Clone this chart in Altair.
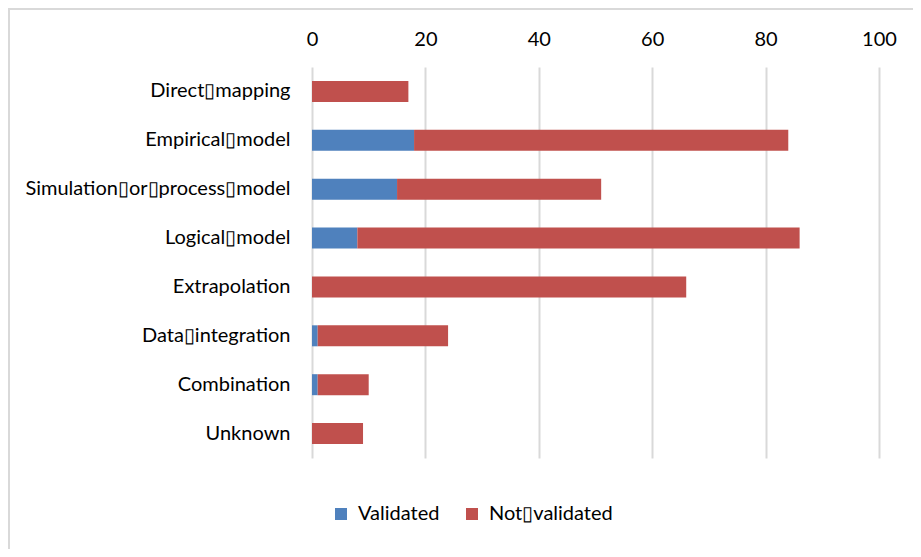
import altair as alt
import pandas as pd

B = "\u25af"
categories = [f"Direct{B}mapping", f"Empirical{B}model", f"Simulation{B}or{B}process{B}model",
              f"Logical{B}model", "Extrapolation", f"Data{B}integration", "Combination", "Unknown"]
validated = [0, 18, 15, 8, 0, 1, 1, 0]
not_validated = [17, 66, 36, 78, 66, 23, 9, 9]
series = ["Validated", f"Not{B}validated"]
colors = ["#4F81BD", "#C0504D"]
x_ticks = [0, 20, 40, 60, 80, 100]

rows = []
for c, v, n in zip(categories, validated, not_validated):
    rows.append({"category": c, "series": series[0], "value": v, "ord": 0})
    rows.append({"category": c, "series": series[1], "value": n, "ord": 1})
df = pd.DataFrame(rows)

FONT = "Lato"
FS = 20

bars = alt.Chart(df).mark_bar(size=21).encode(
    x=alt.X("value:Q", stack="zero",
            scale=alt.Scale(domain=[0, 100], nice=False),
            axis=alt.Axis(orient="top", values=x_ticks, title=None, domain=False, ticks=False,
                          labelFlush=False,
                          labelFont=FONT, labelFontSize=FS, labelColor="#000000", labelPadding=18,
                          gridColor="#D9D9D9", gridWidth=2)),
    y=alt.Y("category:N", sort=categories,
            scale=alt.Scale(paddingInner=0, paddingOuter=0),
            axis=alt.Axis(title=None, domain=False, ticks=False, grid=False, labelLimit=320,
                          labelFont=FONT, labelFontSize=FS, labelColor="#000000", labelPadding=22)),
    color=alt.Color("series:N", scale=alt.Scale(domain=series, range=colors),
                    legend=alt.Legend(title=None, orient="none", legendX=19, legendY=437,
                                      direction="horizontal", symbolType="square", symbolSize=144,
                                      symbolStrokeWidth=0, labelFont=FONT, labelFontSize=FS,
                                      labelColor="#000000", columnPadding=22, labelOffset=7)),
    order=alt.Order("ord:Q"),
)

frame_left = alt.Chart(pd.DataFrame({"a": [0]})).mark_rule(color="#D9D9D9", strokeWidth=2).encode(
    x=alt.value(-303), y=alt.value(-58), y2=alt.value(500))
frame_top = alt.Chart(pd.DataFrame({"a": [0]})).mark_rule(color="#D9D9D9", strokeWidth=2).encode(
    x=alt.value(-304), x2=alt.value(620), y=alt.value(-58))

chart = alt.layer(bars, frame_left, frame_top).properties(
    width=567, height=391,
    autosize=alt.AutoSizeParams(type="none"),
    padding={"left": 304, "top": 59, "right": 34, "bottom": 91},
).configure_view(stroke=None)

chart.save("out.html", embed_options={"renderer": "svg", "actions": False})
